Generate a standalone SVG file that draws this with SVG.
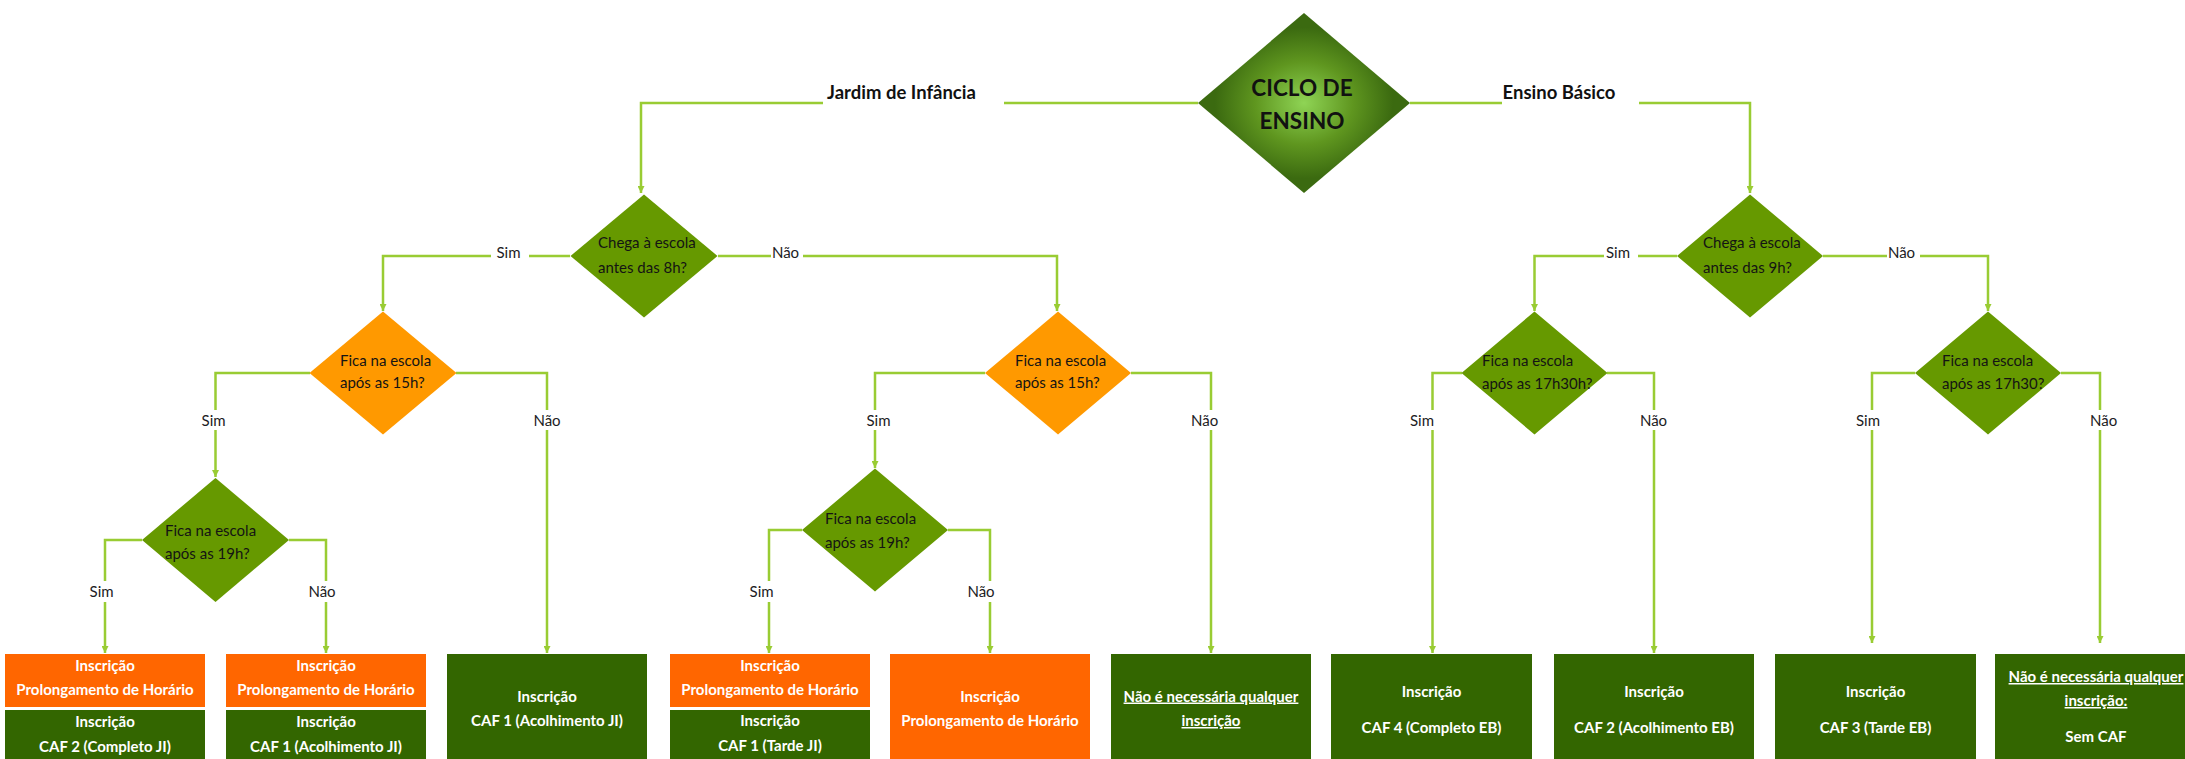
<svg xmlns="http://www.w3.org/2000/svg" width="2185" height="759" viewBox="0 0 2185 759">
<defs>
<radialGradient id="topGrad" cx="0.5" cy="0.5" r="0.42">
<stop offset="0" stop-color="#8fd455"/>
<stop offset="0.55" stop-color="#5f961f"/>
<stop offset="1" stop-color="#3b6a10"/>
</radialGradient>
<marker id="arr" viewBox="0 0 10 10" refX="10" refY="5" markerWidth="7" markerHeight="7" markerUnits="userSpaceOnUse" orient="auto">
<path d="M0,0 L10,5 L0,10 z" fill="#99cc33"/>
</marker>
<style>
.cn{fill:none;stroke:#99cc33;stroke-width:2.5;marker-end:url(#arr)}
.gd{fill:#669900}
.od{fill:#ff9900}
.bo{fill:#ff6600}
.bg{fill:#336600}
.dt{font-family:Lato,"Liberation Sans",sans-serif;font-size:15px;fill:#141414}
.lb{font-family:Lato,"Liberation Sans",sans-serif;font-size:15px;fill:#1c1c24;text-anchor:middle}
.hd{font-family:Lato,"Liberation Sans",sans-serif;font-size:18.5px;font-weight:bold;fill:#111;text-anchor:middle}
.bt{font-family:Lato,"Liberation Sans",sans-serif;font-size:15px;font-weight:bold;fill:#ffffff;text-anchor:middle}
.ul{text-decoration:underline}
.wb{fill:#ffffff}
</style>
</defs>
<rect width="2185" height="759" fill="#ffffff"/>

<g id="connectors">
<polyline class="cn" points="1198,103 641,103 641,193"/>
<polyline class="cn" points="1410,103 1750,103 1750,193"/>
<polyline class="cn" points="570,256 383,256 383,311"/>
<polyline class="cn" points="718,256 1057,256 1057,311"/>
<polyline class="cn" points="310,373 215.5,373 215.5,477"/>
<polyline class="cn" points="456,373 547,373 547,653"/>
<polyline class="cn" points="142,540 105,540 105,653"/>
<polyline class="cn" points="289,540 326,540 326,653"/>
<polyline class="cn" points="985,373 875,373 875,468"/>
<polyline class="cn" points="1131,373 1211,373 1211,653"/>
<polyline class="cn" points="802,530 769,530 769,653"/>
<polyline class="cn" points="948,530 990,530 990,653"/>
<polyline class="cn" points="1677,256 1534.5,256 1534.5,311"/>
<polyline class="cn" points="1823,256 1988,256 1988,311"/>
<polyline class="cn" points="1462,373 1432.5,373 1432.5,653"/>
<polyline class="cn" points="1607,373 1654,373 1654,653"/>
<polyline class="cn" points="1915,373 1872,373 1872,643"/>
<polyline class="cn" points="2061,373 2100,373 2100,643"/>
</g>

<g id="edge-labels">
<rect class="wb" x="823" y="92" width="181" height="22"/>
<text class="hd" x="901.5" y="99">Jardim de Infância</text>
<rect class="wb" x="1502" y="92" width="137" height="22"/>
<text class="hd" x="1559" y="99">Ensino Básico</text>

<rect class="wb" x="491" y="247" width="38" height="18"/>
<text class="lb" x="508.5" y="258">Sim</text>
<rect class="wb" x="771" y="247" width="32" height="18"/>
<text class="lb" x="785.5" y="258">Não</text>
<rect class="wb" x="1604" y="247" width="34" height="18"/>
<text class="lb" x="1618" y="258">Sim</text>
<rect class="wb" x="1887" y="247" width="33" height="18"/>
<text class="lb" x="1901.5" y="258">Não</text>

<rect class="wb" x="199" y="410" width="30" height="20"/>
<text class="lb" x="213.6" y="425.5">Sim</text>
<rect class="wb" x="532" y="410" width="30" height="20"/>
<text class="lb" x="547" y="425.5">Não</text>
<rect class="wb" x="862" y="410" width="30" height="20"/>
<text class="lb" x="878.5" y="425.5">Sim</text>
<rect class="wb" x="1190" y="410" width="30" height="20"/>
<text class="lb" x="1204.6" y="425.5">Não</text>
<rect class="wb" x="1408" y="410" width="30" height="20"/>
<text class="lb" x="1422" y="425.5">Sim</text>
<rect class="wb" x="1639" y="410" width="30" height="20"/>
<text class="lb" x="1653.5" y="425.5">Não</text>
<rect class="wb" x="1854" y="410" width="30" height="20"/>
<text class="lb" x="1868" y="425.5">Sim</text>
<rect class="wb" x="2088" y="410" width="30" height="20"/>
<text class="lb" x="2103.6" y="425.5">Não</text>

<rect class="wb" x="88" y="581" width="30" height="21"/>
<text class="lb" x="101.6" y="597">Sim</text>
<rect class="wb" x="308" y="581" width="30" height="21"/>
<text class="lb" x="322" y="597">Não</text>
<rect class="wb" x="747" y="581" width="30" height="21"/>
<text class="lb" x="761.6" y="597">Sim</text>
<rect class="wb" x="967" y="581" width="30" height="21"/>
<text class="lb" x="981" y="597">Não</text>
</g>

<g id="node-ciclo">
<polygon points="1304,13 1410,103 1304,193 1198,103" fill="url(#topGrad)"/>
<text class="hd" x="1302" y="96" style="font-size:22.5px">CICLO DE</text>
<text class="hd" x="1302" y="129" style="font-size:22.5px">ENSINO</text>
</g>

<g id="node-chega8">
<polygon class="gd" points="644,194.5 717.5,256 644,317.5 570.5,256"/>
<text class="dt" x="598" y="248">Chega à escola</text>
<text class="dt" x="598" y="273">antes das 8h?</text>
</g>
<g id="node-chega9">
<polygon class="gd" points="1750,194.5 1823,256 1750,317.5 1677,256"/>
<text class="dt" x="1703" y="248">Chega à escola</text>
<text class="dt" x="1703" y="273">antes das 9h?</text>
</g>

<g id="node-ji-15a">
<polygon class="od" points="383,311.5 456.5,373 383,434.5 309.5,373"/>
<text class="dt" x="340" y="366">Fica na escola</text>
<text class="dt" x="340" y="388">após as 15h?</text>
</g>
<g id="node-ji-15b">
<polygon class="od" points="1058,311.5 1131,373 1058,434.5 985,373"/>
<text class="dt" x="1015" y="366">Fica na escola</text>
<text class="dt" x="1015" y="388">após as 15h?</text>
</g>
<g id="node-ji-19a">
<polygon class="gd" points="215.5,478 289,540 215.5,602 142,540"/>
<text class="dt" x="165" y="536">Fica na escola</text>
<text class="dt" x="165" y="559">após as 19h?</text>
</g>
<g id="node-ji-19b">
<polygon class="gd" points="875,468.5 948,530 875,591.5 802,530"/>
<text class="dt" x="825" y="524">Fica na escola</text>
<text class="dt" x="825" y="548">após as 19h?</text>
</g>
<g id="node-eb-1730a">
<polygon class="gd" points="1534.5,311.5 1607.5,373 1534.5,434.5 1461.5,373"/>
<text class="dt" x="1482" y="366">Fica na escola</text>
<text class="dt" x="1482" y="389">após as 17h30h?</text>
</g>
<g id="node-eb-1730b">
<polygon class="gd" points="1988,311.5 2061,373 1988,434.5 1915,373"/>
<text class="dt" x="1942" y="366">Fica na escola</text>
<text class="dt" x="1942" y="389">após as 17h30?</text>
</g>

<g id="box-1">
<rect class="bo" x="5" y="654" width="200" height="53"/>
<text class="bt" x="105" y="671">Inscrição</text>
<text class="bt" x="105" y="695">Prolongamento de Horário</text>
<rect class="bg" x="5" y="710" width="200" height="60"/>
<text class="bt" x="105" y="726.5">Inscrição</text>
<text class="bt" x="105" y="751.5">CAF 2 (Completo JI)</text>
</g>
<g id="box-2">
<rect class="bo" x="226" y="654" width="200" height="53"/>
<text class="bt" x="326" y="671">Inscrição</text>
<text class="bt" x="326" y="695">Prolongamento de Horário</text>
<rect class="bg" x="226" y="710" width="200" height="60"/>
<text class="bt" x="326" y="726.5">Inscrição</text>
<text class="bt" x="326" y="751.5">CAF 1 (Acolhimento JI)</text>
</g>
<g id="box-3">
<rect class="bg" x="447" y="654" width="200" height="116"/>
<text class="bt" x="547" y="701.5">Inscrição</text>
<text class="bt" x="547" y="726">CAF 1 (Acolhimento JI)</text>
</g>
<g id="box-4">
<rect class="bo" x="670" y="654" width="200" height="53"/>
<text class="bt" x="770" y="670.5">Inscrição</text>
<text class="bt" x="770" y="694.5">Prolongamento de Horário</text>
<rect class="bg" x="670" y="710" width="200" height="60"/>
<text class="bt" x="770" y="726">Inscrição</text>
<text class="bt" x="770" y="751">CAF 1 (Tarde JI)</text>
</g>
<g id="box-5">
<rect class="bo" x="890" y="654" width="200" height="116"/>
<text class="bt" x="990" y="701.5">Inscrição</text>
<text class="bt" x="990" y="726">Prolongamento de Horário</text>
</g>
<g id="box-6">
<rect class="bg" x="1111" y="654" width="200" height="116"/>
<text class="bt ul" x="1211" y="701.5">Não é necessária qualquer</text>
<text class="bt ul" x="1211" y="726">inscrição</text>
</g>
<g id="box-7">
<rect class="bg" x="1331" y="654" width="201" height="116"/>
<text class="bt" x="1431.5" y="696.5">Inscrição</text>
<text class="bt" x="1431.5" y="733">CAF 4 (Completo EB)</text>
</g>
<g id="box-8">
<rect class="bg" x="1554" y="654" width="200" height="116"/>
<text class="bt" x="1654" y="696.5">Inscrição</text>
<text class="bt" x="1654" y="733">CAF 2 (Acolhimento EB)</text>
</g>
<g id="box-9">
<rect class="bg" x="1775" y="654" width="201" height="116"/>
<text class="bt" x="1875.5" y="696.5">Inscrição</text>
<text class="bt" x="1875.5" y="733">CAF 3 (Tarde EB)</text>
</g>
<g id="box-10">
<rect class="bg" x="1995" y="654" width="201" height="116"/>
<text class="bt ul" x="2096" y="682">Não é necessária qualquer</text>
<text class="bt ul" x="2096" y="706">inscrição:</text>
<text class="bt" x="2096" y="742">Sem CAF</text>
</g>
</svg>
